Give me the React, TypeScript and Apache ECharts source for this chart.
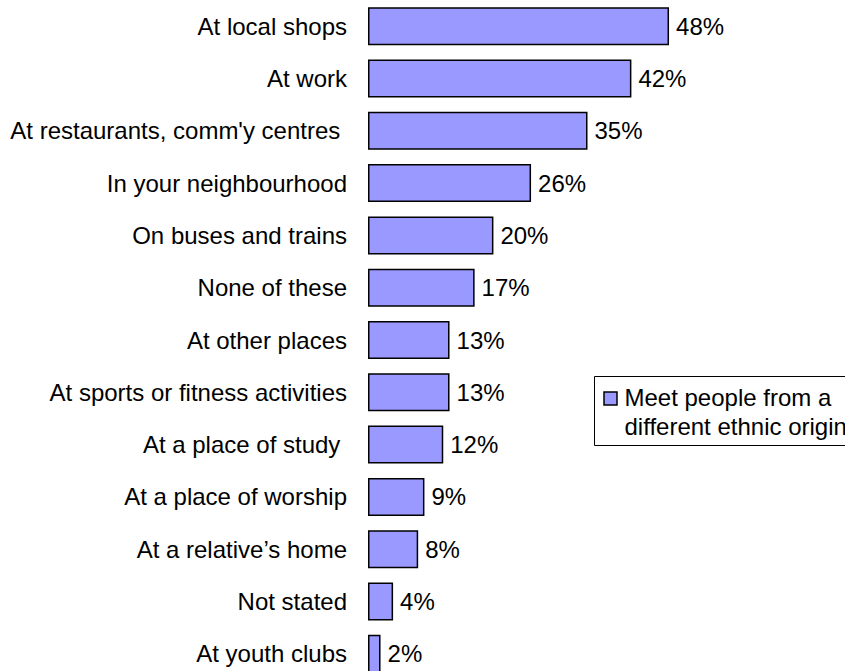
import React, { useEffect, useRef } from "react";
import * as echarts from "echarts";

const categories = [
  "At local shops",
  "At work",
  "At restaurants, comm'y centres ",
  "In your neighbourhood",
  "On buses and trains",
  "None of these",
  "At other places",
  "At sports or fitness activities",
  "At a place of study ",
  "At a place of worship",
  "At a relative\u2019s home",
  "Not stated",
  "At youth clubs",
];
const values = [48, 42, 35, 26, 20, 17, 13, 13, 12, 9, 8, 4, 2];
const seriesName = "Meet people from a\ndifferent ethnic origin";

const FONT = "'Liberation Sans', Arial, Helvetica, sans-serif";

export default function App() {
  const ref = useRef<HTMLDivElement>(null);
  useEffect(() => {
    if (!ref.current) return;
    const chart = echarts.init(ref.current, null, { renderer: "svg" });
    chart.setOption({
      animation: false,
      backgroundColor: "#ffffff",
      textStyle: { fontFamily: FONT },
      grid: { left: 368, top: 0, width: 439, height: 680, containLabel: false },
      xAxis: {
        type: "value",
        min: 0,
        max: 70,
        show: false,
      },
      yAxis: {
        type: "category",
        data: categories,
        inverse: true,
        axisLine: { show: false },
        axisTick: { show: false },
        splitLine: { show: false },
        axisLabel: {
          margin: 21,
          fontSize: 24,
          color: "#000000",
          fontFamily: FONT,
        },
      },
      series: [
        {
          name: seriesName,
          type: "bar",
          data: values,
          barWidth: 38,
          itemStyle: { color: "#9999ff", borderColor: "#000000", borderWidth: 1.5 },
          label: {
            show: true,
            position: "right",
            distance: 7,
            formatter: "{c}%",
            fontSize: 24,
            color: "#000000",
            fontFamily: FONT,
          },
        },
      ],
      graphic: [
        {
          type: "group",
          left: 594,
          top: 376,
          children: [
            {
              type: "rect",
              shape: { x: 0, y: 0, width: 270, height: 69 },
              style: { fill: "#ffffff", stroke: "#000000", lineWidth: 1 },
            },
            {
              type: "rect",
              shape: { x: 9.5, y: 15.5, width: 13, height: 13 },
              style: { fill: "#9999ff", stroke: "#000000", lineWidth: 1.5 },
            },
            {
              type: "text",
              x: 30,
              y: 6,
              style: {
                text: "Meet people from a\ndifferent ethnic origin",
                fontSize: 24,
                lineHeight: 29,
                fontFamily: FONT,
                fill: "#000000",
                align: "left",
                verticalAlign: "top",
              },
            },
          ],
        },
      ],
    });
    return () => chart.dispose();
  }, []);
  return (
    <div
      style={{
        position: "absolute",
        left: 0,
        top: 0,
        width: 845,
        height: 671,
        overflow: "hidden",
        background: "#ffffff",
      }}
    >
      <div ref={ref} style={{ width: 845, height: 700 }} />
    </div>
  );
}
